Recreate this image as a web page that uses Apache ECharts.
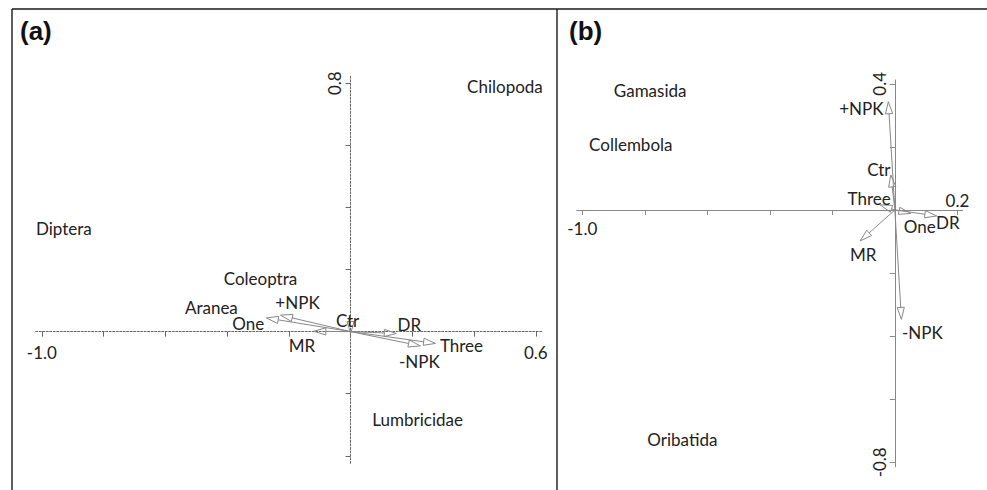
<!DOCTYPE html>
<html>
<head>
<meta charset="utf-8">
<script src="https://cdn.jsdelivr.net/npm/echarts@6/dist/echarts.min.js"></script>
<style>html,body{margin:0;padding:0;background:#fff}#c{width:987px;height:490px}</style>
</head>
<body>
<div id="c"></div>
<script>
// ---- Panel (a) data ----
const envA_names = ['One', '+NPK', 'MR', 'Ctr', 'DR', '-NPK', 'Three'];
const envA_x = [-0.273, -0.227, -0.119, 0.0, 0.148, 0.226, 0.275];
const envA_y = [0.044, 0.053, 0.001, -0.006, -0.006, -0.046, -0.038];
const spA_names = ['Chilopoda', 'Diptera', 'Coleoptra', 'Aranea', 'Lumbricidae'];
const spA_x = [0.500, -0.929, -0.292, -0.451, 0.217];
const spA_y = [0.789, 0.331, 0.172, 0.078, -0.283];
const tickA_x = [-1.0, -0.8, -0.6, -0.4, -0.2, 0.0, 0.2, 0.4, 0.6];
const tickA_y = [-0.4, -0.2, 0.0, 0.2, 0.4, 0.6, 0.8];
const labelA_x = [-1.0, 0.6];
const labelA_y = [0.8];

// ---- Panel (b) data ----
const envB_names = ['+NPK', 'Ctr', 'Three', 'One', 'DR', 'MR', '-NPK'];
const envB_x = [-0.021, -0.013, -0.047, 0.051, 0.134, -0.111, 0.021];
const envB_y = [0.343, 0.111, 0.016, -0.011, -0.019, -0.098, -0.347];
const spB_names = ['Gamasida', 'Collembola', 'Oribatida'];
const spB_x = [-0.783, -0.845, -0.680];
const spB_y = [0.378, 0.208, -0.727];
const tickB_x = [-1.0, -0.8, -0.6, -0.4, -0.2, 0.0, 0.2];
const tickB_y = [-0.8, -0.6, -0.4, -0.2, 0.0, 0.2, 0.4];
const labelB_xBelow = [-1.0];
const labelB_xAbove = [0.2];
const labelB_y = [0.4, -0.8];

// ---- layout / style ----
const gridA = {left: 35.7, top: 76, width: 506.3, height: 387.3};
const gridB = {left: 576.7, top: 80, width: 386, height: 386.7};
const rangeA = {xmin: -1.02, xmax: 0.62, ymin: -0.424, ymax: 0.823};
const rangeB = {xmin: -1.018, xmax: 0.217, ymin: -0.814, ymax: 0.412};
// label offsets in px from arrow tip
const offsetsA = {'One': [-18, 6], '+NPK': [17, -13], 'MR': [-12, 14], 'Ctr': [-3, -13],
                  'DR': [13, -9], '-NPK': [-1, 16], 'Three': [26, 2]};
const offsetsB = {'+NPK': [-27, 7], 'Ctr': [-12, -5], 'Three': [-11, -6], 'One': [9, 13],
                  'DR': [11, 7], 'MR': [3, 14], '-NPK': [21, 13]};
const FS = 17;
const FONT = FS + 'px Lato';
const TXT = '#222';
const ARROW = '#888888';

// offsets that place each axis on the other axis's zero
function xZeroOffset(g, r) { return -g.height * (0 - r.ymin) / (r.ymax - r.ymin); }
function yZeroOffset(g, r) { return -g.width * (0 - r.xmin) / (r.xmax - r.xmin); }

function arrowSeries(xIdx, yIdx, names, xs, ys, offsets) {
  return {
    type: 'custom',
    xAxisIndex: xIdx, yAxisIndex: yIdx,
    data: xs.map((x, i) => [x, ys[i]]),
    renderItem: function (params, api) {
      const o = api.coord([0, 0]);
      const t = api.coord([api.value(0), api.value(1)]);
      const dx = t[0] - o[0], dy = t[1] - o[1];
      const len = Math.max(Math.hypot(dx, dy), 0.0001);
      const ux = dx / len, uy = dy / len;
      const L = 12, W = 3.6;
      const bx = t[0] - ux * L, by = t[1] - uy * L;
      const nx = -uy, ny = ux;
      const children = [];
      if (len > L) {
        children.push({type: 'line', shape: {x1: o[0], y1: o[1], x2: bx, y2: by},
          style: {stroke: ARROW, lineWidth: 1}});
      }
      children.push({type: 'polygon', shape: {points: [[t[0], t[1]], [bx + nx * W, by + ny * W], [bx - nx * W, by - ny * W]]},
        style: {fill: 'none', stroke: ARROW, lineWidth: 1}});
      const nm = names[params.dataIndex];
      const off = offsets[nm] || [0, 0];
      children.push({type: 'text', x: t[0] + off[0], y: t[1] + off[1],
        style: {text: nm, fill: TXT, font: FONT, align: 'center', verticalAlign: 'middle'}});
      return {type: 'group', children: children};
    },
    z: 5
  };
}

function speciesSeries(xIdx, yIdx, names, xs, ys) {
  return {
    type: 'custom',
    xAxisIndex: xIdx, yAxisIndex: yIdx,
    data: xs.map((x, i) => [x, ys[i]]),
    renderItem: function (params, api) {
      const p = api.coord([api.value(0), api.value(1)]);
      return {type: 'text', x: p[0], y: p[1],
        style: {text: names[params.dataIndex], fill: TXT, font: FONT, align: 'center', verticalAlign: 'middle'}};
    }
  };
}

const fmt = v => Number(v).toFixed(1);
const dotted = {color: '#666666', width: 1, type: [2, 1.5]};
const solid = {color: '#888888', width: 1, type: 'solid'};
const lbl = {color: TXT, fontFamily: 'Lato', fontSize: FS};

const chart = echarts.init(document.getElementById('c'), null, {renderer: 'svg'});
chart.setOption({
  animation: false,
  backgroundColor: '#fff',
  grid: [gridA, gridB],
  xAxis: [
    {type: 'value', gridIndex: 0, position: 'bottom', min: rangeA.xmin, max: rangeA.xmax, splitLine: {show: false},
     offset: xZeroOffset(gridA, rangeA),
     axisLine: {onZero: false, lineStyle: dotted},
     axisTick: {show: true, length: 5, customValues: tickA_x, lineStyle: {color: '#666666'}},
     axisLabel: Object.assign({customValues: labelA_x, formatter: fmt, margin: 12}, lbl)},
    {type: 'value', gridIndex: 1, position: 'bottom', min: rangeB.xmin, max: rangeB.xmax, splitLine: {show: false},
     offset: xZeroOffset(gridB, rangeB),
     axisLine: {onZero: false, lineStyle: solid},
     axisTick: {show: true, length: 5, customValues: tickB_x, lineStyle: {color: '#888888'}},
     axisLabel: Object.assign({customValues: labelB_xBelow, formatter: fmt, margin: 10}, lbl)},
    {type: 'value', gridIndex: 1, position: 'bottom', min: rangeB.xmin, max: rangeB.xmax, splitLine: {show: false},
     offset: xZeroOffset(gridB, rangeB),
     axisLine: {show: false, onZero: false}, axisTick: {show: false},
     axisLabel: Object.assign({inside: true, customValues: labelB_xAbove, formatter: fmt, margin: 1}, lbl)}
  ],
  yAxis: [
    {type: 'value', gridIndex: 0, position: 'left', min: rangeA.ymin, max: rangeA.ymax, splitLine: {show: false},
     offset: yZeroOffset(gridA, rangeA),
     axisLine: {onZero: false, lineStyle: dotted},
     axisTick: {show: true, length: 5, customValues: tickA_y, lineStyle: {color: '#666666'}},
     axisLabel: Object.assign({customValues: labelA_y, formatter: fmt, rotate: 90, margin: 8}, lbl)},
    {type: 'value', gridIndex: 1, position: 'left', min: rangeB.ymin, max: rangeB.ymax, splitLine: {show: false},
     offset: yZeroOffset(gridB, rangeB),
     axisLine: {onZero: false, lineStyle: solid},
     axisTick: {show: true, length: 5, customValues: tickB_y, lineStyle: {color: '#888888'}},
     axisLabel: Object.assign({customValues: labelB_y, formatter: fmt, rotate: 90, margin: 7}, lbl)}
  ],
  series: [
    arrowSeries(0, 0, envA_names, envA_x, envA_y, offsetsA),
    speciesSeries(0, 0, spA_names, spA_x, spA_y),
    arrowSeries(1, 1, envB_names, envB_x, envB_y, offsetsB),
    speciesSeries(1, 1, spB_names, spB_x, spB_y)
  ],
  graphic: [
    {type: 'line', shape: {x1: 12, y1: 9, x2: 987, y2: 9}, style: {stroke: '#1a1a1a', lineWidth: 1.6}},
    {type: 'line', shape: {x1: 12, y1: 9, x2: 12, y2: 490}, style: {stroke: '#1a1a1a', lineWidth: 1.4}},
    {type: 'line', shape: {x1: 557, y1: 9, x2: 557, y2: 490}, style: {stroke: '#1a1a1a', lineWidth: 1.4}},
    {type: 'text', left: 20, top: 18, style: {text: '(a)', font: 'bold 26px "Liberation Sans"', fill: '#111'}},
    {type: 'text', left: 569, top: 18, style: {text: '(b)', font: 'bold 26px "Liberation Sans"', fill: '#111'}}
  ]
});
</script>
</body>
</html>
